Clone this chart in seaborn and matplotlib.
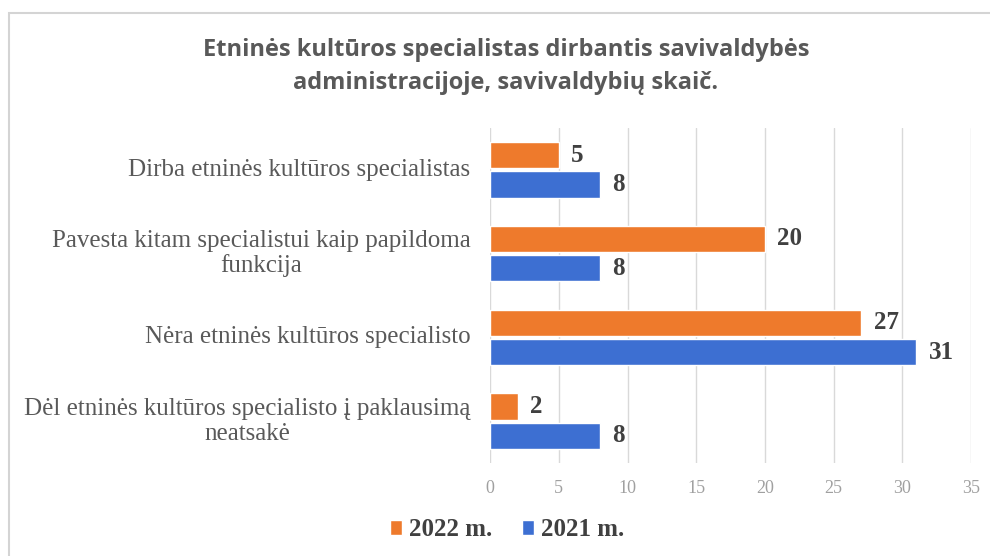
import matplotlib
matplotlib.use("Agg")
import matplotlib.pyplot as plt
from matplotlib.patches import Rectangle
import seaborn as sns
import pandas as pd

categories = [
    "Dirba etninės kultūros specialistas",
    "Pavesta kitam specialistui kaip papildoma\nfunkcija",
    "Nėra etninės kultūros specialisto",
    "Dėl etninės kultūros specialisto į paklausimą\nneatsakė",
]
years = ["2022 m.", "2021 m."]
values_2022 = [5, 20, 27, 2]
values_2021 = [8, 8, 31, 8]
x_ticks = [0, 5, 10, 15, 20, 25, 30, 35]

df = pd.DataFrame({
    "category": categories * 2,
    "year": [years[0]] * len(categories) + [years[1]] * len(categories),
    "value": values_2022 + values_2021,
})

sns.set_theme(style="white")
plt.rcParams["font.family"] = ["Liberation Serif", "DejaVu Serif"]

DPI = 100
fig = plt.figure(figsize=(9.9, 5.56), dpi=DPI)
# light frame around the chart area
fig.patches.append(Rectangle((9 / 990, -0.01), 1, 1.01 - 13 / 556, transform=fig.transFigure,
                             fill=False, edgecolor="#d4d4d4", linewidth=1.5))
ax = fig.add_axes([0.495, 0.167, 0.486, 0.603])

palette = {years[0]: "#EE7A2C", years[1]: "#3D6FD2"}
sns.barplot(data=df, y="category", x="value", hue="year", hue_order=years,
            palette=palette, width=0.7, gap=0.1, orient="h", ax=ax, saturation=1)

for cont in ax.containers:
    ax.bar_label(cont, padding=9, fontsize=18, fontweight="bold", color="#404040")

ax.set_xlim(0, 35)
ax.set_xticks(x_ticks)
ax.tick_params(axis="x", labelsize=13, colors="#a0a0a0", length=0, pad=12)
ax.tick_params(axis="y", length=0)
ax.set_yticklabels([])

# category labels: block ends near the axis, lines centred inside it
cat_texts = []
for i, cat in enumerate(categories):
    t = ax.annotate(cat, xy=(0, i), xycoords=("axes fraction", "data"),
                    xytext=(-14, 0), textcoords="offset points",
                    ha="right", va="center", fontsize=18,
                    color="#595959", linespacing=1.15)
    cat_texts.append(t)

fig.canvas.draw()
renderer = fig.canvas.get_renderer()
for t in cat_texts:
    w = t.get_window_extent(renderer).width * 72 / DPI
    t.set_horizontalalignment("center")
    t.set_position((-14 - w / 2, 0))

ax.grid(axis="x", color="#d9d9d9", linewidth=1)
ax.set_axisbelow(True)
for s in ax.spines.values():
    s.set_visible(False)
ax.set_xlabel("")
ax.set_ylabel("")

handles, labels = ax.get_legend_handles_labels()
ax.legend_.remove()
leg = fig.legend(handles, labels, loc="center", bbox_to_anchor=(0.512, 0.047), ncol=2,
                 frameon=False, fontsize=18, handlelength=0.5, handleheight=0.5,
                 handletextpad=0.25, columnspacing=1.2)
for t in leg.get_texts():
    t.set_fontweight("bold")
    t.set_color("#404040")

fig.text(0.511, 0.88, "Etninės kultūros specialistas dirbantis savivaldybės\nadministracijoje, savivaldybių skaič.",
         ha="center", va="center", fontsize=17, fontweight="bold", color="#595959",
         family=["Open Sans", "DejaVu Sans"], linespacing=1.5)

fig.savefig("out.png", dpi=DPI)
